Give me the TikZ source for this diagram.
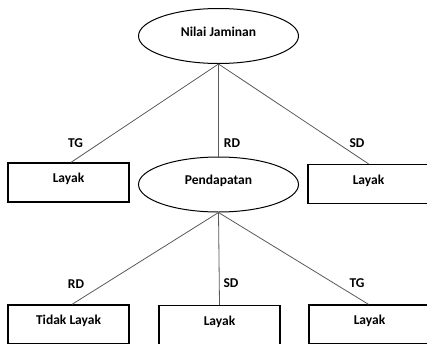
\documentclass[tikz,border=0pt]{standalone}
\usepackage{fontspec}
\setmainfont{Carlito}
\usetikzlibrary{shapes.geometric}
\begin{document}
\begin{tikzpicture}[x=1pt,y=-1pt,
  every node/.style={font=\bfseries\fontsize{13.5}{15}\selectfont, text=black},
  oval/.style={draw=black, line width=1pt, ellipse, minimum width=160pt, minimum height=55pt, inner sep=0pt, text height=8.5pt, text depth=8.5pt},
  leaf/.style={draw=black, line width=1.3pt, rectangle, minimum width=121pt, minimum height=39pt, inner sep=0pt, text height=8.5pt, text depth=8.5pt},
  edge/.style={draw=black!65, line width=0.8pt},
  lbl/.style={inner sep=0pt}
]
\useasboundingbox (0,0) rectangle (427,343);
\clip (0,0) rectangle (427,343);
\node[oval] (root) at (218.5,36) {Nilai Jaminan};
\node[oval] (pend) at (218.5,184.5) {Pendapatan};
\node[leaf] (l1) at (68.5,182.5) {Layak};
\node[leaf] (r1) at (368.5,184) {Layak};
\node[leaf] (b1) at (68.5,324.5) {Tidak Layak};
\node[leaf] (b2) at (219.5,325) {Layak};
\node[leaf] (b3) at (369.5,324.5) {Layak};
\coordinate (l1t) at ([xshift=2.5pt]l1.north);
\coordinate (b1t) at ([xshift=3.5pt]b1.north);
\draw[edge] (root.south) -- (l1t);
\draw[edge] (root.south) -- (pend.north);
\draw[edge] (root.south) -- (r1.north);
\draw[edge] (pend.south) -- (b1t);
\draw[edge] (pend.south) -- (b2.north);
\draw[edge] (pend.south) -- ([xshift=-1pt]b3.north);
\node[lbl] (t1) at (75.5,143) {TG};
\node[lbl] (t2) at (232,143) {RD};
\node[lbl] (t3) at (357,143) {SD};
\node[lbl] (t4) at (76,284) {RD};
\node[lbl] (t5) at (231,283) {SD};
\node[lbl] (t6) at (357,283) {TG};
\end{tikzpicture}
\end{document}
